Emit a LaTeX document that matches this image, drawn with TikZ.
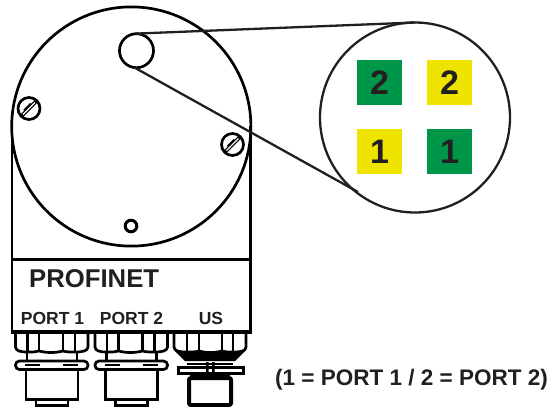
\documentclass[tikz,border=0pt]{standalone}
\usepackage{fontspec}
\setmainfont{Liberation Sans}
\definecolor{ink}{HTML}{231F20}
\definecolor{pgreen}{HTML}{009649}
\definecolor{pyellow}{HTML}{EFE300}
\tikzset{
  outl/.style={draw=black,line width=2.7pt},
  thin outl/.style={draw=ink,line width=2.3pt},
  keybox/.style={minimum size=45pt,inner sep=0pt,anchor=center,font=\bfseries\fontsize{34}{34}\selectfont,text=ink},
  lab/.style={inner sep=0pt,font=\bfseries\fontsize{17.5}{17.5}\selectfont,text=ink},
  pics/screw/.style={code={
    \draw[outl,fill=white] (0,0) circle (11);
    \draw[line width=2.2pt] (-7,8)--(8,-7);
    \draw[line width=2.2pt] (-8,7)--(7,-8);
    \draw[line width=1.1pt,white] (-6,6)--(6,-6);
    \draw[line width=1.8pt] (-5,1.8)--(1.8,-5);
  }},
  pics/m12/.style={code={
    \draw[outl] (15.5,333)--(15.5,347) .. controls (16,351) and (20,352) .. (27.5,352)
      .. controls (33,352) and (36,352) .. (39,351) .. controls (47,353) and (55,353) .. (63,351)
      .. controls (66,352) and (70,352) .. (75,352) .. controls (83,352) and (87.5,351) .. (88,347)--(88,333);
    \foreach \x in {27.5,39,63,75} \draw[outl] (\x,333)--(\x,351);
    \draw[outl] (27,352)--(27,362) (77,352)--(77,362);
    \draw[outl,rounded corners=4pt,fill=white] (15.5,361)rectangle(88,369.5);
    \draw[line width=2.2pt] (25,365)--(40,365) (63,365)--(78,365);
    \draw[outl] (26,369)--(26,399.5)--(78,399.5)--(78,369);
    \draw[outl] (36,399.5)--(36,405.5)--(68,405.5)--(68,399.5);
  }}
}
\begin{document}
\begin{tikzpicture}[x=1pt,y=-1pt]
\useasboundingbox (0,0) rectangle (550,407);
% housing
\coordinate (hubC) at (131.3,126.5);
\coordinate (lensC) at (136.5,50.7);
\coordinate (zoomC) at (415,117.5);
\coordinate (lensTop) at (136,33.6);
\coordinate (lensBot) at (134,67.3);
\coordinate (zoomTop) at (415,22.5);
\coordinate (zoomLow) at (358,192);
\draw[outl] (12,126)--(12,332);
\draw[outl] (250.5,126)--(250.5,332);
\draw[outl] (hubC) circle (119.6);
\draw[outl] (lensC) circle (17);
\draw[line width=3pt] (12,259)--(250.5,259);
\draw[line width=3.2pt] (11,332)--(251.5,332);
\pic at (29,108.5) {screw};
\pic at (232.5,144.5) {screw};
\draw[line width=3pt] (131,226) circle (5.8);
% magnifier
\draw[thin outl] (zoomC) circle (95);
\draw[thin outl] (lensTop)--(zoomTop);
\draw[thin outl] (lensBot)--(zoomLow);
\node[keybox,fill=pgreen] (g2) at (379.5,82.5) {2};
\node[keybox,fill=pyellow] (y2) at (449.5,82.5) {2};
\node[keybox,fill=pyellow] (y1) at (379.5,151.5) {1};
\node[keybox,fill=pgreen] (g1) at (449.5,151.5) {1};
% labels
\node[inner sep=0pt,anchor=west,font=\bfseries\fontsize{25.7}{25.7}\selectfont,text=ink] (pn) at (29,278.5) {PROFINET};
\node[lab] (p1) at (52.5,318) {PORT 1};
\node[lab] (p2) at (131.5,318) {PORT 2};
\node[lab] (us) at (211,318) {US};
\node[inner sep=0pt,anchor=east,font=\bfseries\fontsize{22.5}{22.5}\selectfont,text=ink] (note) at (548,380) {(1 = PORT 1 / 2 = PORT 2)};
% connectors
\pic at (0,0) {m12};
\pic at (79.5,0) {m12};
% US connector
\draw[outl] (174,333)--(174,347) .. controls (174.5,351) and (178,352) .. (187,352)
  .. controls (192,352) and (196,352) .. (199,351) .. controls (206,353) and (215,353) .. (222,351)
  .. controls (225,352) and (229,352) .. (233,352) .. controls (242,352) and (245.5,351) .. (246,347)--(246,333);
\foreach \x in {187,199,222,233} \draw[outl] (\x,333)--(\x,351);
\fill[black] (175,351)--(245,351)--(235,361)--(185,361)--cycle;
\draw[line width=1.8pt] (187,364)--(233,364);
\draw[line width=3pt,fill=white] (178,367.5)rectangle(243,373.5);
\fill[black] (206,362)rectangle(208.5,373) (212,362)rectangle(214.5,373);
\draw[line width=2.2pt] (190,375.5)--(230,375.5);
\draw[line width=4pt,rounded corners=2pt] (189,378)--(231,378)--(231,405)--(189,405)--cycle;
\end{tikzpicture}
\end{document}
